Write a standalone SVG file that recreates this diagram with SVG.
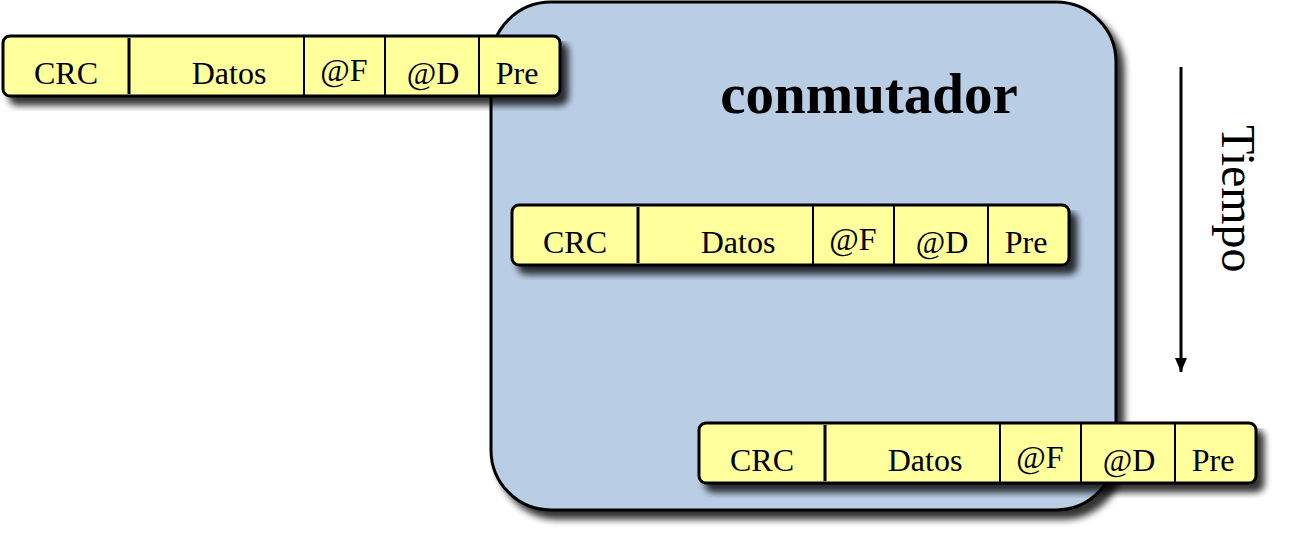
<svg xmlns="http://www.w3.org/2000/svg" width="1294" height="535" viewBox="0 0 1294 535">
  <defs>
    <filter id="shadow" x="-5%" y="-5%" width="115%" height="130%">
      <feGaussianBlur in="SourceAlpha" stdDeviation="3.5"/>
      <feOffset dx="7" dy="8" result="off"/>
      <feComponentTransfer><feFuncA type="linear" slope="0.8"/></feComponentTransfer>
      <feMerge><feMergeNode/><feMergeNode in="SourceGraphic"/></feMerge>
    </filter>
    <marker id="arrow" viewBox="0 0 14 12" refX="14" refY="6" markerWidth="14" markerHeight="12" markerUnits="userSpaceOnUse" orient="auto">
      <path d="M0,0 L14,6 L0,12 z" fill="#000"/>
    </marker>
    <!-- one frame: CRC | Datos | @F | @D | Pre -->
    <g id="frame">
      <rect x="0" y="0" width="557" height="60" rx="7" fill="#ffff9c" stroke="#000" stroke-width="3" filter="url(#shadow)"/>
      <line x1="126" y1="2" x2="126" y2="58" stroke="#000" stroke-width="3"/>
      <line x1="301" y1="1" x2="301" y2="59" stroke="#000" stroke-width="2"/>
      <line x1="382" y1="1" x2="382" y2="59" stroke="#000" stroke-width="2"/>
      <line x1="476" y1="1" x2="476" y2="59" stroke="#000" stroke-width="2"/>
      <text class="t" x="63" y="48">CRC</text>
      <text class="t" x="226" y="48">Datos</text>
      <text class="t" x="341" y="45">@F</text>
      <text class="t" x="430" y="48">@D</text>
      <text class="t" x="514" y="48">Pre</text>
    </g>
  </defs>
  <style>
    .t { font-family: "Liberation Serif", "Times New Roman", serif; font-size: 32px; text-anchor: middle; fill: #000; }
    .title { font-family: "Liberation Serif", "Times New Roman", serif; font-size: 57px; font-weight: bold; text-anchor: middle; fill: #000; }
    .label { font-family: "Liberation Serif", "Times New Roman", serif; font-size: 48px; fill: #000; }
  </style>

  <!-- switch body -->
  <g id="conmutador">
    <rect x="491" y="2" width="625" height="508" rx="60" fill="#b9cde5" stroke="#000" stroke-width="3" filter="url(#shadow)"/>
    <text class="title" x="869" y="113">conmutador</text>
  </g>

  <!-- frame entering, crossing, leaving -->
  <g id="trama-entrada"><use href="#frame" x="3" y="36"/></g>
  <g id="trama-interior"><use href="#frame" x="512" y="205"/></g>
  <g id="trama-salida"><use href="#frame" x="699" y="423"/></g>

  <!-- time axis -->
  <g id="conectores">
    <line x1="1181" y1="67" x2="1181" y2="372" stroke="#000" stroke-width="3" marker-end="url(#arrow)"/>
  </g>
  <g id="tiempo">
    <text class="label" transform="translate(1222,125) rotate(90)">Tiempo</text>
  </g>
</svg>
